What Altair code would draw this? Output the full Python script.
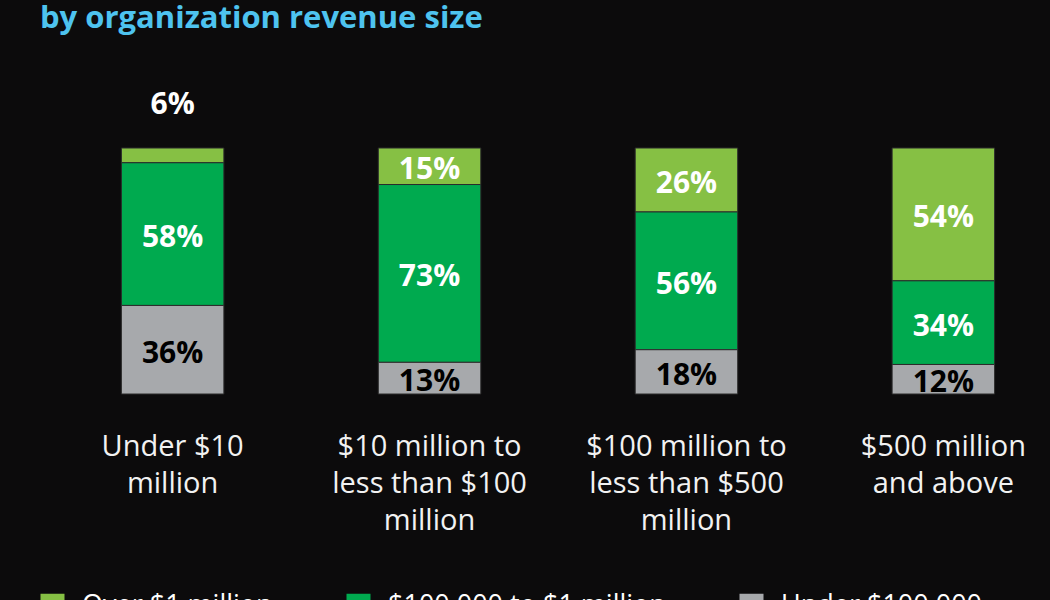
import altair as alt
import pandas as pd

title_text = ["by organization revenue size"]
categories = [
    "Under $10\nmillion",
    "$10 million to\nless than $100\nmillion",
    "$100 million to\nless than $500\nmillion",
    "$500 million\nand above",
]
series = ["Over $1 million", "$100,000 to $1 million", "Under $100,000"]
over_1m = [6, 15, 26, 54]
mid_range = [58, 73, 56, 34]
under_100k = [36, 13, 18, 12]
colors = ["#86c044", "#00aa4f", "#a7a9ac"]
stack_rank = [2, 1, 0]

rows = []
for i, c in enumerate(categories):
    for s, vals, r in zip(series, [over_1m, mid_range, under_100k], stack_rank):
        rows.append({"cat": c, "series": s, "value": vals[i], "rank": r})
df = pd.DataFrame(rows)

FONT = "Open Sans"

xenc = alt.X(
    "cat:N",
    sort=categories,
    scale=alt.Scale(paddingInner=0.601, paddingOuter=0.2),
    axis=None,
)

base = alt.Chart(df).transform_stack(
    stack="value",
    groupby=["cat"],
    as_=["y0", "y1"],
    offset="normalize",
    sort=[alt.SortField("rank", order="ascending")],
)

bars = base.mark_bar(stroke="#2b2b2b", strokeWidth=1).encode(
    x=xenc,
    y=alt.Y("y0:Q", scale=alt.Scale(domain=[0, 1]), axis=None),
    y2="y1:Q",
    color=alt.Color(
        "series:N",
        scale=alt.Scale(domain=series, range=colors),
        legend=alt.Legend(
            orient="none",
            legendX=-31,
            legendY=444,
            direction="horizontal",
            title=None,
            symbolType="square",
            symbolSize=576,
            symbolStrokeWidth=0,
            symbolOpacity=1,
            labelFontSize=27,
            labelFont=FONT,
            labelColor="white",
            labelOffset=16,
            columnPadding=72,
            labelLimit=400,
        ),
    ),
)

labels = base.transform_calculate(
    ly="datum.value < 10 ? datum.y1 + 0.19 : (datum.y0 + datum.y1) / 2",
    label="datum.value + '%'",
).mark_text(
    font=FONT, fontSize=30, fontWeight="bold", baseline="middle", align="center", dy=4
).encode(
    x=xenc,
    y=alt.Y("ly:Q", scale=alt.Scale(domain=[0, 1]), axis=None),
    text="label:N",
    color=alt.condition("datum.rank == 0", alt.value("#000000"), alt.value("#ffffff")),
)

cat_labels = alt.Chart(df).transform_filter("datum.rank == 0").mark_text(
    font=FONT, fontSize=29, color="#f2f2f2", lineBreak="\n", lineHeight=37,
    baseline="alphabetic", align="center",
).encode(
    x=xenc,
    y=alt.value(308),
    text="cat:N",
)

title = alt.Chart(pd.DataFrame({"t": title_text})).mark_text(
    font=FONT, fontSize=31, fontWeight="bold", color="#4ec3ef",
    align="left", baseline="alphabetic",
).encode(
    x=alt.value(-30),
    y=alt.value(-120),
    text="t:N",
)

chart = alt.layer(bars, labels, cat_labels, title).properties(
    width=976,
    height=246,
    background="#0c0b0c",
    autosize=alt.AutoSizeParams(type="none"),
    padding={"left": 70, "top": 148, "right": 4, "bottom": 206},
).configure(font=FONT).configure_view(strokeWidth=0, stroke="transparent")

chart.save("out.html", embed_options={"renderer": "svg", "actions": False})
